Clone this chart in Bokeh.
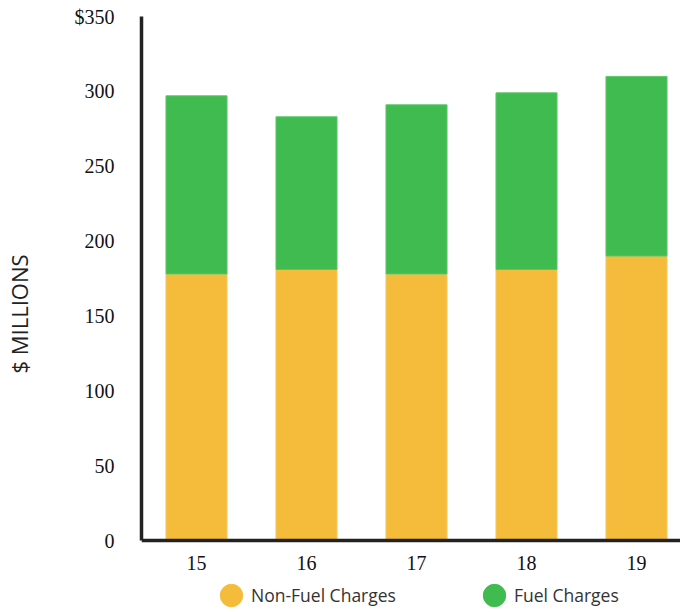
from bokeh.plotting import figure
from bokeh.models import ColumnDataSource, Range1d, Legend, LegendItem, FixedTicker
from bokeh.embed import file_html
from bokeh.resources import INLINE

years = ["15", "16", "17", "18", "19"]
non_fuel = [178, 181, 178, 181, 190]
fuel = [119, 102, 113, 118, 120]
y_ticks = [0, 50, 100, 150, 200, 250, 300, 350]

xpos = [i + 0.5 for i in range(len(years))]
src = ColumnDataSource(dict(x=xpos, year=years, non_fuel=non_fuel, fuel=fuel))

FW = 539
PLOT_H = 524          # pixels from 0 to 350
EXTRA = 71            # pixels below the zero line kept inside the frame for the legend
y_top = 350
y_bottom = -EXTRA * y_top / PLOT_H

p = figure(x_range=Range1d(0, FW / 110.0), y_range=Range1d(y_bottom, y_top),
           frame_width=FW, frame_height=PLOT_H + EXTRA, output_backend="svg",
           toolbar_location=None,
           min_border_left=133, min_border_right=0, min_border_top=16, min_border_bottom=0)

rs = p.vbar_stack(["non_fuel", "fuel"], x="x", width=0.555, source=src,
                  color=["#F5BC3C", "#40BB4F"], line_color=["#F7C85E", "#5CC66A"], line_width=1)

p.xgrid.visible = False
p.ygrid.visible = False
p.outline_line_color = None

for ax in (p.xaxis, p.yaxis):
    ax.axis_line_color = "#222222"
    ax.axis_line_width = 3.5
    ax.major_tick_line_color = None
    ax.minor_tick_line_color = None
    ax.major_label_text_font = "Liberation Serif"
    ax.major_label_text_font_size = "20px"
    ax.major_label_text_color = "#111111"

p.xaxis.fixed_location = 0
p.xaxis.major_tick_out = 0
p.xaxis.major_tick_in = 0
p.xaxis.minor_tick_out = 0
p.xaxis.axis_label_standoff = 0
p.xaxis.ticker = FixedTicker(ticks=xpos)
p.xaxis.major_label_overrides = {x: y for x, y in zip(xpos, years)}
p.xaxis.major_label_standoff = 15
p.yaxis.bounds = (0, y_top)
p.yaxis.ticker = FixedTicker(ticks=y_ticks)
p.yaxis.major_label_overrides = {350: "$350"}
p.yaxis.major_label_standoff = 21
p.yaxis.axis_label = "$ MILLIONS"
p.yaxis.axis_label_text_font = "Open Sans"
p.yaxis.axis_label_text_font_style = "normal"
p.yaxis.axis_label_text_font_size = "22px"
p.yaxis.axis_label_text_color = "#222222"
p.yaxis.axis_label_standoff = 38

dummy1 = p.ellipse(x=[-10], y=[-1000], width=22, height=22, width_units="screen",
                   height_units="screen", color="#F5BC3C")
dummy2 = p.ellipse(x=[-10], y=[-1000], width=22, height=22, width_units="screen",
                   height_units="screen", color="#40BB4F")

legend = Legend(items=[LegendItem(label="Non-Fuel Charges", renderers=[dummy1]),
                       LegendItem(label="Fuel Charges", renderers=[dummy2])],
                orientation="horizontal", location=(76, 2),
                label_text_font="Open Sans", label_text_font_size="17.5px",
                label_text_color="#333333", glyph_width=28, glyph_height=28,
                spacing=84, border_line_color=None, background_fill_alpha=0,
                padding=0, margin=0, label_standoff=6)
p.add_layout(legend, "center")

open("out.html", "w").write(file_html(p, INLINE))
